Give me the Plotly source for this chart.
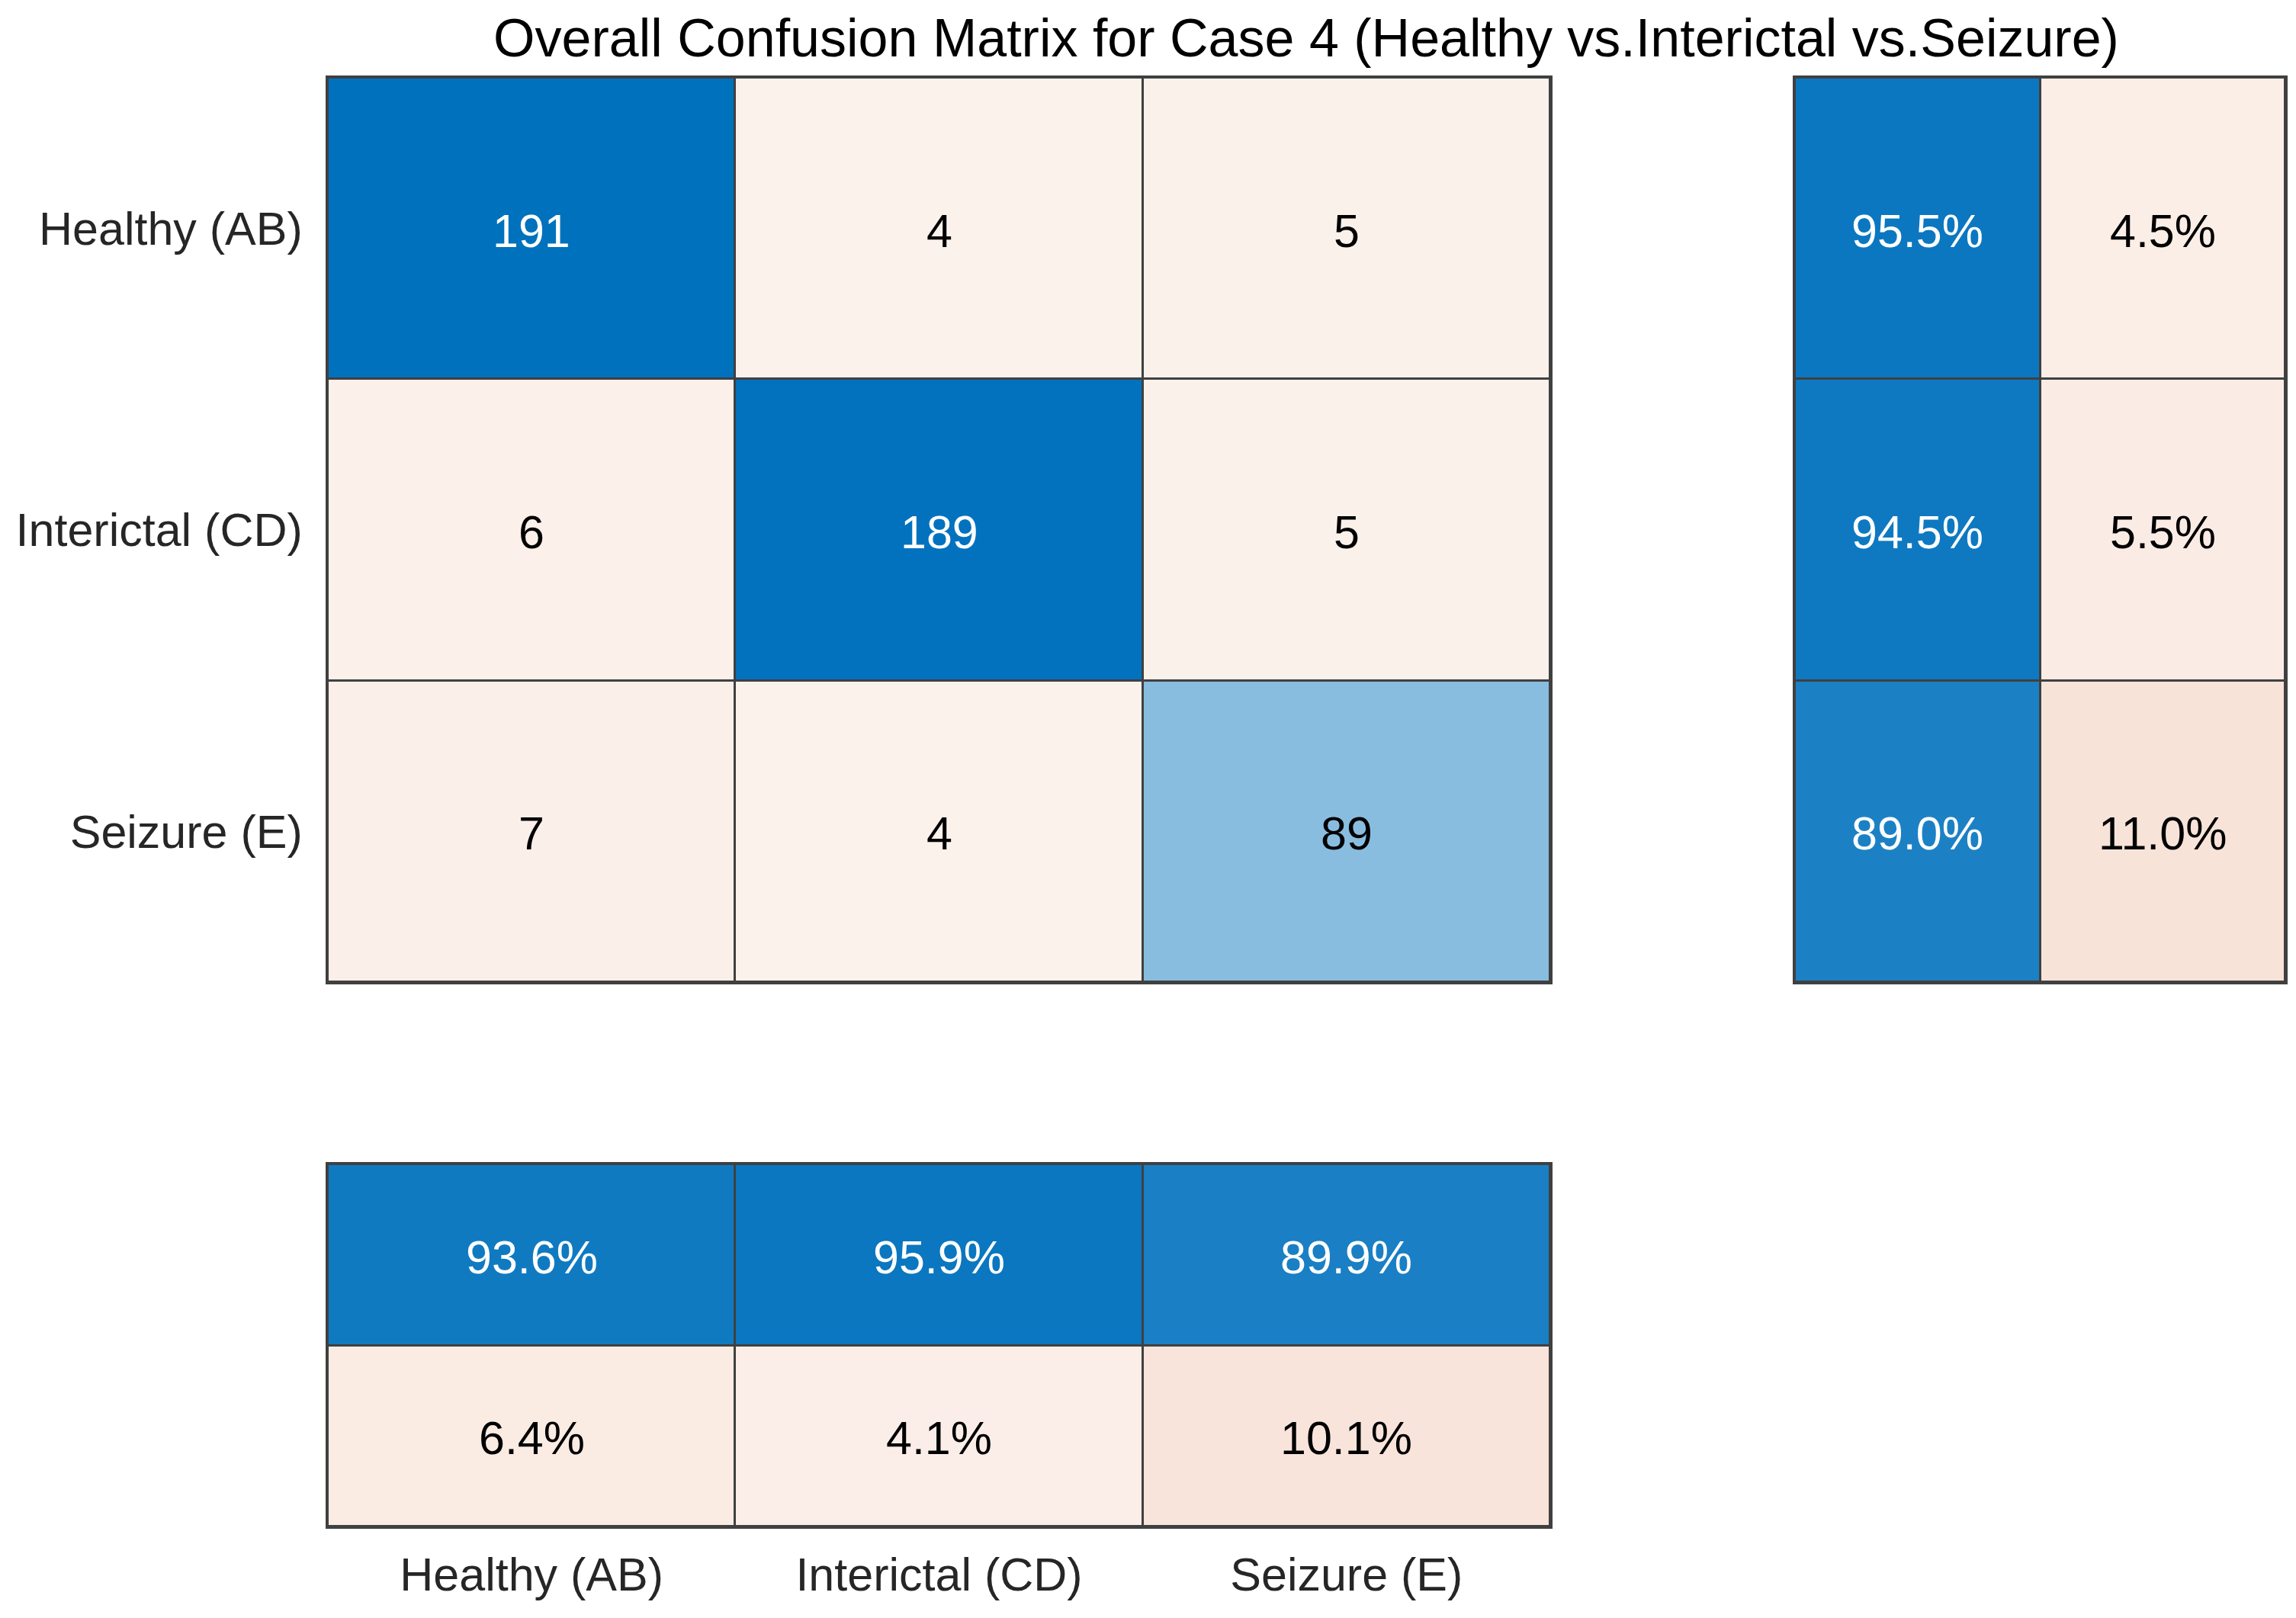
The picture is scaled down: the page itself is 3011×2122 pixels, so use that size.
import plotly.graph_objects as go

# class names as shown on the chart
classes = ["Healthy (AB)", "Interictal (CD)", "Seizure (E)"]

# confusion counts, rows = true class, cols = predicted class
counts = [
    [191, 4, 5],
    [6, 189, 5],
    [7, 4, 89],
]

# row summary (true positive rate / false negative rate), in %
row_correct = [95.5, 94.5, 89.0]
row_wrong = [4.5, 5.5, 11.0]

# column summary (precision / false discovery rate), in %
col_correct = [93.6, 95.9, 89.9]
col_wrong = [6.4, 4.1, 10.1]

summary_cols = ["correct", "wrong"]

FONT = "Liberation Sans, Arial, sans-serif"
# page has an 8px body margin, so the figure is a bit smaller than the window
PAD = 8
W, H = 3011 - 2 * PAD, 2122 - 2 * PAD


def px_x(v):
    return (v - PAD) / W


def px_y(v):
    return 1 - (v - PAD) / H


# signed colour value: positive -> blue (correct), negative -> orange (wrong)
cscale = [
    [0.0, "rgb(217,83,25)"],
    [0.445, "rgb(248,227,217)"],
    [0.4999, "rgb(252,245,241)"],
    [0.5, "rgb(255,255,255)"],
    [1.0, "rgb(0,113,189)"],
]

cmax = max(max(r) for r in counts)
z_main = [[(v if i == j else -v) / cmax for j, v in enumerate(row)] for i, row in enumerate(counts)]
z_right = [[row_correct[i] / 100, -row_wrong[i] / 100] for i in range(len(classes))]
z_bottom = [[c / 100 for c in col_correct], [-c / 100 for c in col_wrong]]


def txt_color(z):
    return "white" if z > 0.6 else "black"


fig = go.Figure()
labels = []

# main matrix
fig.add_trace(go.Heatmap(x=classes, y=classes, z=z_main, colorscale=cscale, zmin=-1, zmax=1,
                         showscale=False, xgap=3, ygap=3, hoverinfo="skip",
                         xaxis="x", yaxis="y"))
for i, row in enumerate(counts):
    for j, v in enumerate(row):
        labels.append(("x", "y", classes[j], classes[i], str(v), txt_color(z_main[i][j])))

# row summary on the right
fig.add_trace(go.Heatmap(x=summary_cols, y=classes, z=z_right, colorscale=cscale, zmin=-1, zmax=1,
                         showscale=False, xgap=3, ygap=3, hoverinfo="skip",
                         xaxis="x2", yaxis="y2"))
for i in range(len(classes)):
    for j, v in enumerate([row_correct[i], row_wrong[i]]):
        labels.append(("x2", "y2", summary_cols[j], classes[i], f"{v:.1f}%", txt_color(z_right[i][j])))

# column summary at the bottom
fig.add_trace(go.Heatmap(x=classes, y=summary_cols, z=z_bottom, colorscale=cscale, zmin=-1, zmax=1,
                         showscale=False, xgap=3, ygap=3, hoverinfo="skip",
                         xaxis="x3", yaxis="y3"))
for i, vals in enumerate([col_correct, col_wrong]):
    for j, v in enumerate(vals):
        labels.append(("x3", "y3", classes[j], summary_cols[i], f"{v:.1f}%", txt_color(z_bottom[i][j])))

for xr, yr, xv, yv, t, c in labels:
    fig.add_annotation(xref=xr, yref=yr, x=xv, y=yv, text=t, showarrow=False,
                       xanchor="center", yanchor="middle", yshift=-3,
                       font=dict(size=61, color=c, family=FONT))

edge = dict(showline=True, linecolor="#404040", linewidth=3, mirror=True,
            showgrid=False, zeroline=False, fixedrange=True)

main_x = [px_x(430), px_x(2033)]
right_x = [px_x(2354), px_x(2997)]
top_y = [px_y(1288), px_y(102)]
bot_y = [px_y(2002), px_y(1527)]

fig.update_layout(
    width=W, height=H,
    margin=dict(l=0, r=0, t=0, b=0),
    paper_bgcolor="white",
    plot_bgcolor="#404040",
    font=dict(family=FONT, size=61, color="#262626"),
    showlegend=False,
    title=dict(text="Overall Confusion Matrix for Case 4 (Healthy vs.Interictal vs.Seizure)",
               x=px_x(1713), xanchor="center", y=px_y(49), yanchor="middle",
               font=dict(size=70, color="black", family=FONT)),
    xaxis=dict(domain=main_x, anchor="y", range=[-0.5, 2.5], showticklabels=False, ticks="", **edge),
    yaxis=dict(domain=top_y, anchor="x", range=[2.5, -0.5], ticks="outside", ticklen=18,
               tickcolor="rgba(0,0,0,0)", tickfont=dict(size=61, color="#262626"), **edge),
    xaxis2=dict(domain=right_x, anchor="y2", range=[-0.5, 1.5], showticklabels=False, ticks="", **edge),
    yaxis2=dict(domain=top_y, anchor="x2", range=[2.5, -0.5], showticklabels=False, ticks="", **edge),
    xaxis3=dict(domain=main_x, anchor="y3", range=[-0.5, 2.5], ticks="outside", ticklen=8,
                tickcolor="rgba(0,0,0,0)", tickfont=dict(size=61, color="#262626"), **edge),
    yaxis3=dict(domain=bot_y, anchor="x3", range=[1.5, -0.5], showticklabels=False, ticks="", **edge),
)

fig.write_html("out.html")
